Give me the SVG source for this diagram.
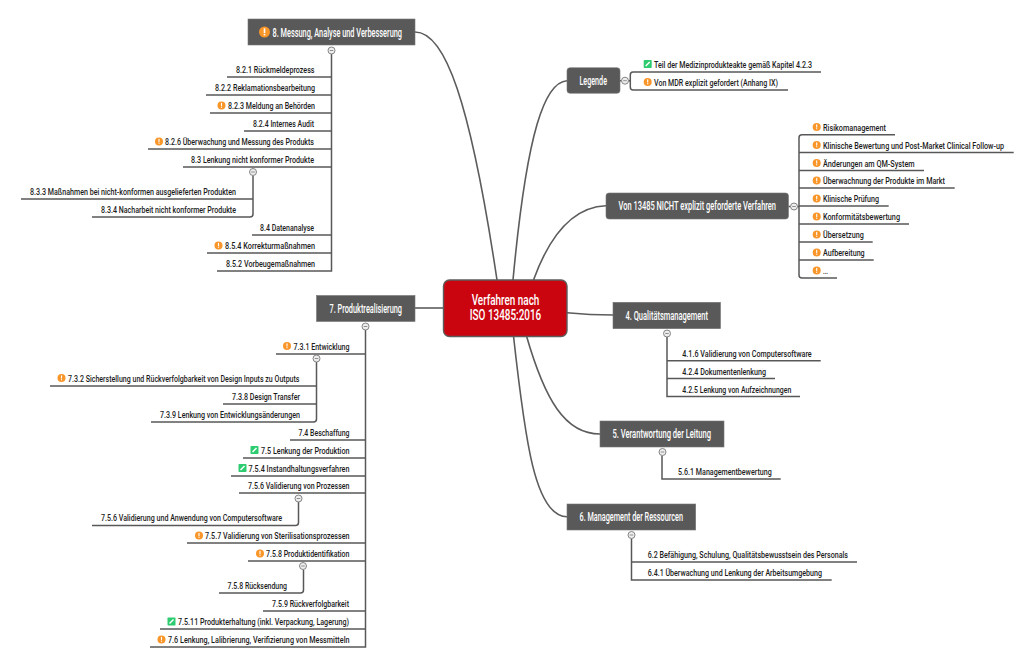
<svg xmlns="http://www.w3.org/2000/svg" xmlns:xlink="http://www.w3.org/1999/xlink" width="1024" height="660" viewBox="0 0 1024 660">
<style>
text{font-family:Roboto,"Liberation Sans",sans-serif}
.i{font-size:8.3px;font-weight:500;fill:#1c1c1c}
.t{font-size:13.5px;font-weight:500;fill:#fff;text-anchor:start}
.c{font-size:14.6px;font-weight:500;fill:#fff}
.b{fill:#595959;stroke:#777;stroke-width:.6}
.l{fill:none;stroke:#5c5c5c;stroke-width:1.6}
.m{fill:none;stroke:#585858;stroke-width:1.5}
</style>
<defs>
<g id="warn"><circle r="4" fill="#F9962A"/><rect x="-.55" y="-2.6" width="1.1" height="3.2" fill="#fff"/><rect x="-.55" y="1.2" width="1.1" height="1.1" fill="#fff"/></g>
<g id="warnb"><circle r="5.5" fill="#F9962A"/><rect x="-.8" y="-3.6" width="1.6" height="4.6" fill="#fff"/><rect x="-.8" y="1.8" width="1.6" height="1.6" fill="#fff"/></g>
<g id="ok"><rect x="-4" y="-4" width="8" height="8" rx=".8" fill="#2ECC71"/><path d="M-2 2 L2 -2" stroke="#fff" stroke-width="1.4"/></g>
<g id="col"><circle r="3.5" fill="#eee" stroke="#777" stroke-width=".9"/><path d="M-1.8 0H1.8" stroke="#777" stroke-width=".8"/></g>
</defs>
<rect width="1024" height="660" fill="#fff"/>
<g id="connectors">
<path class="l" d="M415 32C445 32 470 100 497 280"/>
<path class="l" d="M567 80.700C545 82 527 130 513 280"/>
<path class="l" d="M606 205.700C570 207 548 240 533.500 280"/>
<path class="l" d="M567 312.700Q590 315 613 315"/>
<path class="l" d="M526.500 336C545 400 565 434 600 434"/>
<path class="l" d="M513.500 336C525 440 535 516.700 567 516.700"/>
<path class="l" d="M415 308H444"/>
<path class="m" d="M331.500 54V271H217M331.500 77H227M331.500 95H206M331.500 113H210M331.500 131H244M331.500 149H148M331.500 167H183M331.500 235H252M331.500 253H207"/>
<path class="m" d="M253 176V214Q253 217 250 217H92M253 199H21"/>
<path class="m" d="M365.500 330V647H150M365.500 354H276M365.500 440H290M365.500 458H243M365.500 476H231M365.500 493H239M365.500 543H187M365.500 561H248M365.500 611H263M365.500 629H160"/>
<path class="m" d="M316.500 362V419Q316.500 422 313.500 422H151M316.500 386H50M316.500 404H223"/>
<path class="m" d="M298.500 502V522.500Q298.500 525.500 295.500 525.500H92"/>
<path class="m" d="M303.500 570V590Q303.500 593 300.500 593H219"/>
<path class="m" d="M821 72H633Q630.300 72 630.300 75V87Q630.300 90 633 90H788"/>
<path class="m" d="M895 134.700H802Q799 134.700 799 137.700V275Q799 278 802 278H837M799 152.500H1013.700M799 170.500H924M799 188H954.700M799 206H888.700M799 224H909M799 242H872.700M799 260H873.700"/>
<path class="m" d="M667 337V396.500H800M667 360.700H820.700M667 378.500H775"/>
<path class="m" d="M662 455.500V479H780.700"/>
<path class="m" d="M631.500 538.500V580H831.700M631.500 562H857"/>
<path class="m" d="M620 80.700H621.500M628.500 80.700H630.300M788.500 206.500H790.500M797.500 206.500H799"/>
</g>
<g id="root"><rect x="443.500" y="280" width="123.500" height="56.500" rx="6" fill="#CA0510" stroke="#5c5c5c" stroke-width="1.400"/><text class="c" transform="translate(505.500 305) scale(.68 1)" text-anchor="middle"><tspan x="0" y="0">Verfahren nach</tspan><tspan x="0" y="14.800">ISO 13485:2016</tspan></text></g>
<g id="n8"><rect class="b" x="248" y="19" width="167" height="26"/><use xlink:href="#warnb" x="264.500" y="32"/><text class="t" x="272.500" y="36.500" textLength="129.500" lengthAdjust="spacingAndGlyphs">8. Messung, Analyse und Verbesserung</text><use xlink:href="#col" x="331.500" y="50.500"/></g>
<g id="n821"><text class="i" x="236" y="73" textLength="78.500" lengthAdjust="spacingAndGlyphs">8.2.1 Rückmeldeprozess</text></g>
<g id="n822"><text class="i" x="215" y="91" textLength="100" lengthAdjust="spacingAndGlyphs">8.2.2 Reklamationsbearbeitung</text></g>
<g id="n823"><use xlink:href="#warn" x="221.500" y="105.500"/><text class="i" x="228" y="109" textLength="87" lengthAdjust="spacingAndGlyphs">8.2.3 Meldung an Behörden</text></g>
<g id="n824"><text class="i" x="253" y="127" textLength="61" lengthAdjust="spacingAndGlyphs">8.2.4 Internes Audit</text></g>
<g id="n826"><use xlink:href="#warn" x="159" y="141.500"/><text class="i" x="165" y="145" textLength="149" lengthAdjust="spacingAndGlyphs">8.2.6 Überwachung und Messung des Produkts</text></g>
<g id="n83"><text class="i" x="191" y="163" textLength="123" lengthAdjust="spacingAndGlyphs">8.3 Lenkung nicht konformer Produkte</text><use xlink:href="#col" x="253" y="172"/></g>
<g id="n833"><text class="i" x="30" y="195" textLength="206" lengthAdjust="spacingAndGlyphs">8.3.3 Maßnahmen bei nicht-konformen ausgelieferten Produkten</text></g>
<g id="n834"><text class="i" x="101" y="213" textLength="135" lengthAdjust="spacingAndGlyphs">8.3.4 Nacharbeit nicht konformer Produkte</text></g>
<g id="n84"><text class="i" x="260" y="231" textLength="54" lengthAdjust="spacingAndGlyphs">8.4 Datenanalyse</text></g>
<g id="n854"><use xlink:href="#warn" x="218.500" y="245.500"/><text class="i" x="225" y="249" textLength="90" lengthAdjust="spacingAndGlyphs">8.5.4 Korrekturmaßnahmen</text></g>
<g id="n852"><text class="i" x="226" y="267" textLength="89" lengthAdjust="spacingAndGlyphs">8.5.2 Vorbeugemaßnahmen</text></g>
<g id="n7"><rect class="b" x="316.500" y="295.500" width="98.500" height="26"/><text class="t" x="329.500" y="312.500" textLength="72.500" lengthAdjust="spacingAndGlyphs">7. Produktrealisierung</text><use xlink:href="#col" x="365.500" y="326.500"/></g>
<g id="n731"><use xlink:href="#warn" x="287" y="346"/><text class="i" x="293.500" y="349.500" textLength="56" lengthAdjust="spacingAndGlyphs">7.3.1 Entwicklung</text><use xlink:href="#col" x="316.500" y="358.500"/></g>
<g id="n732"><use xlink:href="#warn" x="61.500" y="378"/><text class="i" x="68" y="381.500" textLength="231.500" lengthAdjust="spacingAndGlyphs">7.3.2 Sicherstellung und Rückverfolgbarkeit von Design Inputs zu Outputs</text></g>
<g id="n738"><text class="i" x="232" y="399.500" textLength="68" lengthAdjust="spacingAndGlyphs">7.3.8 Design Transfer</text></g>
<g id="n739"><text class="i" x="160" y="417.500" textLength="140" lengthAdjust="spacingAndGlyphs">7.3.9 Lenkung von Entwicklungsänderungen</text></g>
<g id="n74"><text class="i" x="298.500" y="435.500" textLength="51" lengthAdjust="spacingAndGlyphs">7.4 Beschaffung</text></g>
<g id="n75"><use xlink:href="#ok" x="254.500" y="450"/><text class="i" x="261" y="453.500" textLength="88.500" lengthAdjust="spacingAndGlyphs">7.5 Lenkung der Produktion</text></g>
<g id="n754"><use xlink:href="#ok" x="242.500" y="468"/><text class="i" x="248.500" y="471.500" textLength="101" lengthAdjust="spacingAndGlyphs">7.5.4 Instandhaltungsverfahren</text></g>
<g id="n756"><text class="i" x="248" y="489" textLength="101.500" lengthAdjust="spacingAndGlyphs">7.5.6 Validierung von Prozessen</text><use xlink:href="#col" x="298.500" y="498.500"/></g>
<g id="n756b"><text class="i" x="101" y="521" textLength="181" lengthAdjust="spacingAndGlyphs">7.5.6 Validierung und Anwendung von Computersoftware</text></g>
<g id="n757"><use xlink:href="#warn" x="199" y="535.500"/><text class="i" x="205" y="539" textLength="144.500" lengthAdjust="spacingAndGlyphs">7.5.7 Validierung von Sterilisationsprozessen</text></g>
<g id="n758"><use xlink:href="#warn" x="260" y="553.500"/><text class="i" x="266" y="557" textLength="83.500" lengthAdjust="spacingAndGlyphs">7.5.8 Produktidentifikation</text><use xlink:href="#col" x="303" y="566"/></g>
<g id="n758b"><text class="i" x="227.500" y="589" textLength="59.500" lengthAdjust="spacingAndGlyphs">7.5.8 Rücksendung</text></g>
<g id="n759"><text class="i" x="272" y="607" textLength="77" lengthAdjust="spacingAndGlyphs">7.5.9 Rückverfolgbarkeit</text></g>
<g id="n7511"><use xlink:href="#ok" x="171.500" y="621.500"/><text class="i" x="178" y="625" textLength="171" lengthAdjust="spacingAndGlyphs">7.5.11 Produkterhaltung (inkl. Verpackung, Lagerung)</text></g>
<g id="n76"><use xlink:href="#warn" x="161.500" y="639.500"/><text class="i" x="168" y="643" textLength="181.500" lengthAdjust="spacingAndGlyphs">7.6 Lenkung, Lalibrierung, Verifizierung von Messmitteln</text></g>
<g id="legende"><rect class="b" x="567" y="67.700" width="53" height="25.600" rx="3"/><text class="t" x="579.500" y="84.500" textLength="27.500" lengthAdjust="spacingAndGlyphs">Legende</text><use xlink:href="#col" x="625" y="80.700"/></g>
<g id="leg1"><use xlink:href="#ok" x="647.700" y="64"/><text class="i" x="654" y="67.500" textLength="158" lengthAdjust="spacingAndGlyphs">Teil der Medizinprodukteakte gemäß Kapitel 4.2.3</text></g>
<g id="leg2"><use xlink:href="#warn" x="647.700" y="82"/><text class="i" x="654" y="85.500" textLength="124" lengthAdjust="spacingAndGlyphs">Von MDR explizit gefordert (Anhang IX)</text></g>
<g id="nv"><rect class="b" x="606" y="193" width="182.500" height="26" rx="3"/><text class="t" transform="translate(618.500 210) scale(.55 1)" x="0" y="0" textLength="286.400" lengthAdjust="spacingAndGlyphs">Von 13485 NICHT explizit geforderte Verfahren</text><use xlink:href="#col" x="794" y="206.500"/></g>
<g id="v1"><use xlink:href="#warn" x="816.700" y="127"/><text class="i" x="823" y="130.500" textLength="63" lengthAdjust="spacingAndGlyphs">Risikomanagement</text></g>
<g id="v2"><use xlink:href="#warn" x="816.700" y="145"/><text class="i" transform="translate(823 148.500) scale(.88 1)" x="0" y="0" textLength="205.700" lengthAdjust="spacingAndGlyphs">Klinische Bewertung und Post-Market Clinical Follow-up</text></g>
<g id="v3"><use xlink:href="#warn" x="816.700" y="163"/><text class="i" x="823" y="166.500" textLength="91.700" lengthAdjust="spacingAndGlyphs">Änderungen am QM-System</text></g>
<g id="v4"><use xlink:href="#warn" x="816.700" y="180.500"/><text class="i" x="823" y="184" textLength="122" lengthAdjust="spacingAndGlyphs">Überwachnung der Produkte im Markt</text></g>
<g id="v5"><use xlink:href="#warn" x="816.700" y="198.500"/><text class="i" x="823" y="202" textLength="56" lengthAdjust="spacingAndGlyphs">Klinische Prüfung</text></g>
<g id="v6"><use xlink:href="#warn" x="816.700" y="216.500"/><text class="i" x="823" y="220" textLength="77" lengthAdjust="spacingAndGlyphs">Konformitätsbewertung</text></g>
<g id="v7"><use xlink:href="#warn" x="816.700" y="234.500"/><text class="i" x="823" y="238" textLength="40.700" lengthAdjust="spacingAndGlyphs">Übersetzung</text></g>
<g id="v8"><use xlink:href="#warn" x="816.700" y="252.500"/><text class="i" x="823" y="256" textLength="41.700" lengthAdjust="spacingAndGlyphs">Aufbereitung</text></g>
<g id="v9"><use xlink:href="#warn" x="816.700" y="270.500"/><text class="i" x="823" y="274" textLength="5" lengthAdjust="spacingAndGlyphs">...</text></g>
<g id="n4"><rect class="b" x="613" y="302.300" width="107.500" height="26.400"/><text class="t" x="625.500" y="319.500" textLength="82.500" lengthAdjust="spacingAndGlyphs">4. Qualitätsmanagement</text><use xlink:href="#col" x="667" y="333.500"/></g>
<g id="n416"><text class="i" x="682.300" y="356.500" textLength="129.400" lengthAdjust="spacingAndGlyphs">4.1.6 Validierung von Computersoftware</text></g>
<g id="n424"><text class="i" x="682.300" y="374.500" textLength="83.700" lengthAdjust="spacingAndGlyphs">4.2.4 Dokumentenlenkung</text></g>
<g id="n425"><text class="i" x="682.300" y="392.500" textLength="109" lengthAdjust="spacingAndGlyphs">4.2.5 Lenkung von Aufzeichnungen</text></g>
<g id="n5"><rect class="b" x="600" y="421" width="124" height="26"/><text class="t" x="612.500" y="438" textLength="98.500" lengthAdjust="spacingAndGlyphs">5. Verantwortung der Leitung</text><use xlink:href="#col" x="662.500" y="452"/></g>
<g id="n561"><text class="i" x="678" y="474.700" textLength="93.700" lengthAdjust="spacingAndGlyphs">5.6.1 Managementbewertung</text></g>
<g id="n6"><rect class="b" x="567" y="504" width="128.700" height="26"/><text class="t" x="579.500" y="521" textLength="103.500" lengthAdjust="spacingAndGlyphs">6. Management der Ressourcen</text><use xlink:href="#col" x="631.500" y="535"/></g>
<g id="n62"><text class="i" x="647.700" y="557.800" textLength="200.300" lengthAdjust="spacingAndGlyphs">6.2 Befähigung, Schulung, Qualitätsbewusstsein des Personals</text></g>
<g id="n641"><text class="i" x="647.700" y="575.800" textLength="174.300" lengthAdjust="spacingAndGlyphs">6.4.1 Überwachung und Lenkung der Arbeitsumgebung</text></g>
</svg>
